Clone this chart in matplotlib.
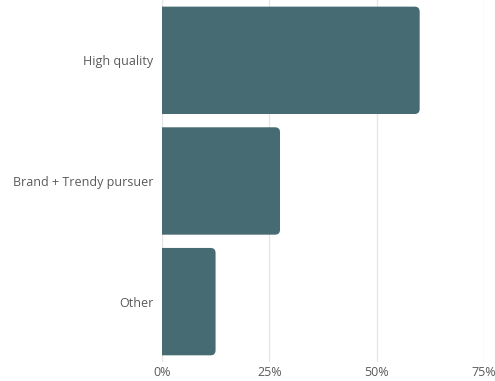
import matplotlib
matplotlib.use("Agg")
import matplotlib.pyplot as plt
from matplotlib.patches import FancyBboxPatch
from matplotlib.ticker import PercentFormatter

categories = ["High quality", "Brand + Trendy pursuer", "Other"]
shares = [60.0, 27.5, 12.5]  # percent of respondents
xticks = [0, 25, 50, 75]

BAR_COLOR = "#476b73"
TEXT_COLOR = "#5a5a5a"
GRID_COLOR = "#e6e6e6"
CORNER_PX = 5  # rounding radius on the bar ends, in pixels

plt.rcParams["font.family"] = ["Open Sans", "DejaVu Sans"]

fig = plt.figure(figsize=(4.95, 3.81), dpi=100)
ax = fig.add_axes([0.327, 0.05, 0.651, 0.95])

bars = ax.barh(categories, shares, height=0.89, color=BAR_COLOR)
ax.set_xlim(0, 75)
ax.set_ylim(2.5, -0.5)

# swap the square bars for ones with rounded right-hand corners;
# the left edge starts past x=0 so the axes clip hides its rounding
fig.canvas.draw()
px_per_x = ax.transData.transform((1, 0))[0] - ax.transData.transform((0, 0))[0]
px_per_y = abs(ax.transData.transform((0, 1))[1] - ax.transData.transform((0, 0))[1])
r_x = CORNER_PX / px_per_x
aspect = px_per_x / px_per_y
for rect in bars:
    x0, y0 = rect.get_x(), rect.get_y()
    w, h = rect.get_width(), rect.get_height()
    rect.set_visible(False)
    patch = FancyBboxPatch((x0 - 3 * r_x, y0), w + 3 * r_x, h,
                           boxstyle=f"round,pad=0,rounding_size={r_x}",
                           mutation_aspect=aspect,
                           facecolor=BAR_COLOR, edgecolor="none", zorder=3)
    ax.add_patch(patch)

ax.set_xticks(xticks)
ax.xaxis.set_major_formatter(PercentFormatter(decimals=0))
ax.grid(axis="x", color=GRID_COLOR, linewidth=1, zorder=0)
ax.set_axisbelow(True)
for s in ax.spines.values():
    s.set_visible(False)
ax.tick_params(axis="both", length=0, colors=TEXT_COLOR, labelsize=9)
ax.tick_params(axis="y", pad=6)
ax.tick_params(axis="x", pad=3)

fig.savefig("out.png", dpi=100, facecolor="white")
